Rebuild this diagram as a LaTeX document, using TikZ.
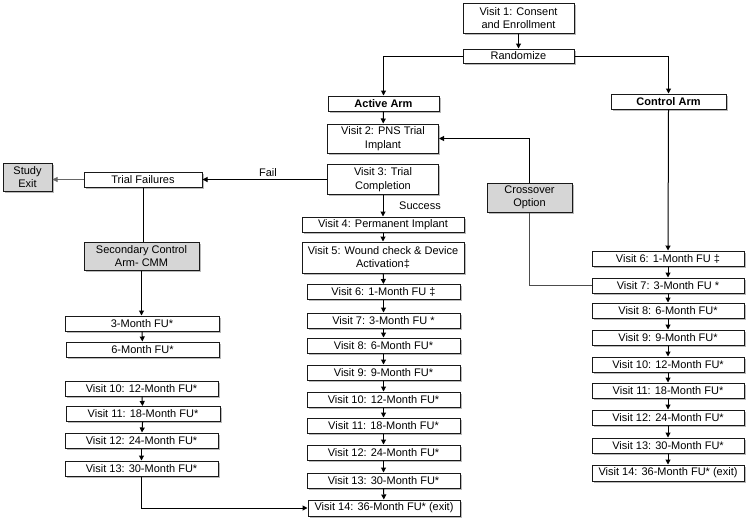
\documentclass[tikz,border=0pt]{standalone}
\usepackage{fontspec}
\setmainfont{Liberation Sans}
\usetikzlibrary{arrows.meta,shadows}
\begin{document}
\begin{tikzpicture}[x=1pt,y=-1pt,
  box/.style={draw=black!90, line width=1pt, fill=white, inner sep=1pt, align=center,
    font=\fontsize{11}{13.3}\selectfont,
    drop shadow={shadow xshift=1.5pt,shadow yshift=-1.5pt,fill=black!45,opacity=0.6}},
  gbox/.style={box, fill=black!16},
  bw/.style={minimum width=#1pt},
  bh/.style={minimum height=#1pt},
  arr/.style={-{Triangle[length=5pt,width=5pt]}, line width=1pt, draw=black},
  ln/.style={line width=1pt, draw=black},
  lab/.style={font=\fontsize{11}{13.3}\selectfont, inner sep=0pt}]
\useasboundingbox (0,0) rectangle (752,523);

% top
\node[box,bw=111,bh=30] (v1) at (518.5,18) {Visit 1: Consent\\and Enrollment};
\node[box,bw=111,bh=14] (rand) at (518.5,56) {Randomize};
\node[box,bw=111,bh=15,font=\fontsize{11}{13.3}\selectfont\bfseries] (active) at (383.5,103.5) {Active Arm};
\node[box,bw=115,bh=15,font=\fontsize{11}{13.3}\selectfont\bfseries] (control) at (668.5,101.5) {Control Arm};

% middle column
\node[box,bw=111,bh=29] (v2) at (383,138.5) {Visit 2: PNS Trial\\Implant};
\node[box,bw=111,bh=30] (v3) at (383,179.5) {Visit 3: Trial\\Completion};
\node[box,bw=162,bh=15] (m4) at (383,224.5) {Visit 4: Permanent Implant};
\node[box,bw=162,bh=31] (m5) at (383,257.5) {Visit 5: Wound check \& Device\\Activation‡};
\node[box,bw=153,bh=15] (m6) at (383.5,292) {Visit 6: 1-Month FU ‡};
\node[box,bw=153,bh=15] (m7) at (383.5,320.5) {Visit 7: 3-Month FU *};
\node[box,bw=153,bh=15] (m8) at (383.5,345.5) {Visit 8: 6-Month FU*};
\node[box,bw=153,bh=15] (m9) at (383.5,372.5) {Visit 9: 9-Month FU*};
\node[box,bw=153,bh=15] (m10) at (383.5,399.5) {Visit 10: 12-Month FU*};
\node[box,bw=153,bh=15] (m11) at (383.5,425.5) {Visit 11: 18-Month FU*};
\node[box,bw=153,bh=15] (m12) at (383.5,452.5) {Visit 12: 24-Month FU*};
\node[box,bw=153,bh=15] (m13) at (383.5,480.5) {Visit 13: 30-Month FU*};
\node[box,bw=152,bh=16] (m14) at (384,508) {Visit 14: 36-Month FU* (exit)};

% left column
\node[gbox,bw=49,bh=28] (exit) at (27.5,177) {Study\\Exit};
\node[box,bw=118,bh=15] (tf) at (143,179.5) {Trial Failures};
\node[gbox,bw=115,bh=28] (sca) at (141.5,256) {Secondary Control\\Arm- CMM};
\node[box,bw=154,bh=15] (l3) at (142,323.5) {3-Month FU*};
\node[box,bw=153,bh=15] (l6) at (142.5,349.5) {6-Month FU*};
\node[box,bw=153,bh=15] (l10) at (141.5,388.5) {Visit 10: 12-Month FU*};
\node[box,bw=154,bh=15] (l11) at (143,414) {Visit 11: 18-Month FU*};
\node[box,bw=153,bh=15] (l12) at (141.5,440.5) {Visit 12: 24-Month FU*};
\node[box,bw=153,bh=15] (l13) at (141.5,468.5) {Visit 13: 30-Month FU*};

% crossover
\node[gbox,bw=85,bh=29] (cross) at (529.5,197.5) {Crossover\\Option};

% right column
\node[box,bw=152,bh=15] (r6) at (668,258.5) {Visit 6: 1-Month FU ‡};
\node[box,bw=152,bh=15] (r7) at (668,285.5) {Visit 7: 3-Month FU *};
\node[box,bw=152,bh=15] (r8) at (668,310.5) {Visit 8: 6-Month FU*};
\node[box,bw=152,bh=15] (r9) at (668,337.5) {Visit 9: 9-Month FU*};
\node[box,bw=152,bh=15] (r10) at (668,364.5) {Visit 10: 12-Month FU*};
\node[box,bw=152,bh=15] (r11) at (668,390.5) {Visit 11: 18-Month FU*};
\node[box,bw=152,bh=15] (r12) at (668,417.5) {Visit 12: 24-Month FU*};
\node[box,bw=152,bh=15] (r13) at (668,445.5) {Visit 13: 30-Month FU*};
\node[box,bw=152,bh=16] (r14) at (668,473) {Visit 14: 36-Month FU* (exit)};

% labels
\node[lab] (fail) at (268,173) {Fail};
\node[lab] (succ) at (420,206) {Success};

% connectors
\draw[arr] (v1) -- (rand);
\draw[arr] (rand.west) -| (active.north);
\draw[arr] (rand.east) -| (control.north);
\draw[arr] (active) -- (v2);
\draw[arr] (control.south) -- (r6.north);
\draw[arr] (v3.west) -- (tf.east);
\draw[-{Triangle[length=5pt,width=5pt]}, line width=0.6pt, draw=black!60] (tf.west) -- (exit.east |- tf.west);
\draw[ln] (tf.south) -- (tf.south |- sca.north);
\draw[arr] (sca.south) -- (sca.south |- l3.north);
\draw[arr] (l3) -- (l6);
\draw[arr] (l10) -- (l11);
\draw[arr] (l11) -- (l12);
\draw[arr] (l12) -- (l13);
\draw[arr] (l13.south) |- (m14.west);
\draw[arr] (v3.south) -- (m4.north);
\draw[arr] (m4) -- (m5);
\draw[arr] (m5) -- (m6);
\draw[arr] (m6) -- (m7);
\draw[arr] (m7) -- (m8);
\draw[arr] (m8) -- (m9);
\draw[arr] (m9) -- (m10);
\draw[arr] (m10) -- (m11);
\draw[arr] (m11) -- (m12);
\draw[arr] (m12) -- (m13);
\draw[arr] (m13) -- (m14);
\draw[arr] (cross.north) |- (v2.east);
\draw[ln, draw=black!70] (cross.south) |- (r7.west);
\draw[arr] (r6) -- (r7);
\draw[arr] (r7) -- (r8);
\draw[arr] (r8) -- (r9);
\draw[arr] (r9) -- (r10);
\draw[arr] (r10) -- (r11);
\draw[arr] (r11) -- (r12);
\draw[arr] (r12) -- (r13);
\draw[arr] (r13) -- (r14);
\end{tikzpicture}
\end{document}
